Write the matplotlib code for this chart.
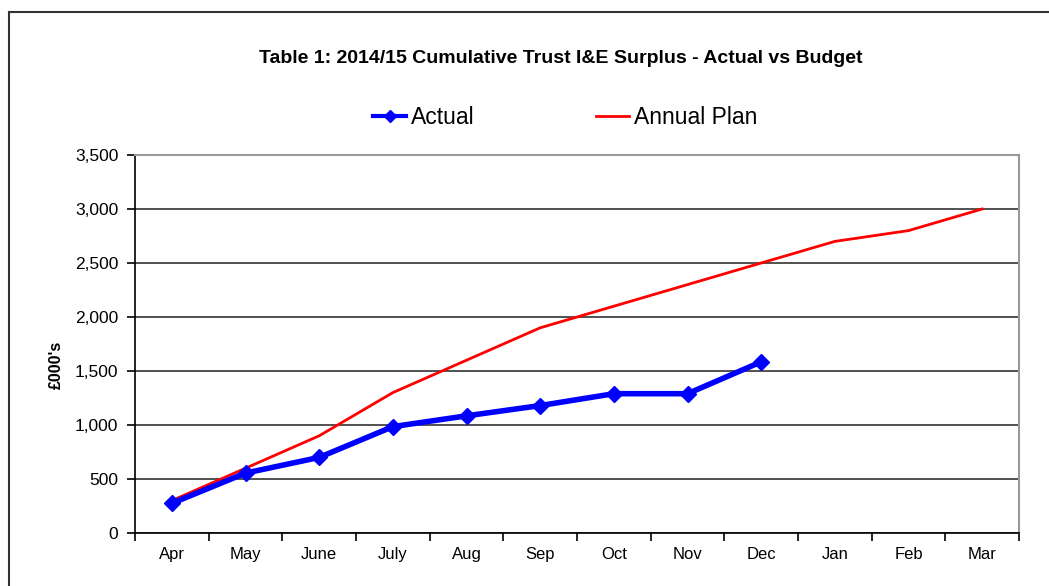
# Cumulative Trust I&E surplus: actual vs annual plan
import numpy as np
import matplotlib.pyplot as plt
from matplotlib.lines import Line2D
from matplotlib.ticker import FuncFormatter, MultipleLocator

plt.rcParams['font.family'] = ['Liberation Sans', 'DejaVu Sans']

meses = ["Apr", "May", "June", "July", "Aug", "Sep", "Oct", "Nov", "Dec", "Jan", "Feb", "Mar"]
actual = [275, 555, 700, 985, 1085, 1180, 1290, 1290, 1585]
plan = [300, 600, 900, 1300, 1600, 1900, 2100, 2300, 2500, 2700, 2800, 3000]

fig = plt.figure(figsize=(10.49, 5.86), dpi=100)
ax = fig.add_axes([0.1287, 0.0904, 0.8427, 0.6451])

x = np.arange(len(meses))
ax.plot(x[:len(actual)], actual, color="#0000ff", lw=4, marker="D", ms=8,
        label="Actual", zorder=4)
ax.plot(x, plan, color="#ff0000", lw=2, label="Annual Plan", zorder=3)

ax.set_xlim(-0.5, len(meses) - 0.5)
ax.set_ylim(0, 3500)
ax.yaxis.set_major_locator(MultipleLocator(500))
ax.yaxis.set_major_formatter(FuncFormatter(lambda v, p: f"{v:,.0f}"))
ax.grid(axis="y", color="#333333", lw=1.2)
ax.set_axisbelow(True)

ax.set_xticks(x)
ax.set_xticklabels(meses)
ax.set_xticks(np.arange(-0.5, len(meses)), minor=True)
ax.tick_params(axis="x", which="major", length=0, pad=10, labelsize=12)
ax.tick_params(axis="x", which="minor", length=6, direction="out", width=1.2)
ax.tick_params(axis="y", length=6, direction="out", width=1.2, labelsize=12.5, pad=6)

for lado in ["left", "bottom"]:
    ax.spines[lado].set_color("black")
    ax.spines[lado].set_linewidth(1.2)
for lado in ["top", "right"]:
    ax.spines[lado].set_color("#999999")
    ax.spines[lado].set_linewidth(1.5)

ax.set_ylabel("£000's", fontsize=11.5, fontweight="bold")
ax.yaxis.set_label_coords(-0.081, 0.444)

fig.text(0.535, 0.900, "Table 1: 2014/15 Cumulative Trust I&E Surplus - Actual vs Budget",
         ha="center", va="center", fontsize=14, fontweight="bold")

leg = fig.legend(loc="center", bbox_to_anchor=(0.5386, 0.800), ncol=2, frameon=False,
                 fontsize=16.5, handlelength=1.45, handletextpad=0.2, columnspacing=5.3)
leg.legend_handles[0].set_markersize(6)
leg.legend_handles[0].set_linewidth(3)

# marco exterior del gráfico
fig.add_artist(Line2D([9 / 1049, 1], [1 - 12 / 586, 1 - 12 / 586], color="#333333", lw=1.5))
fig.add_artist(Line2D([9 / 1049, 9 / 1049], [0, 1 - 12 / 586], color="#333333", lw=1.5))

fig.savefig("out.png", dpi=100)
